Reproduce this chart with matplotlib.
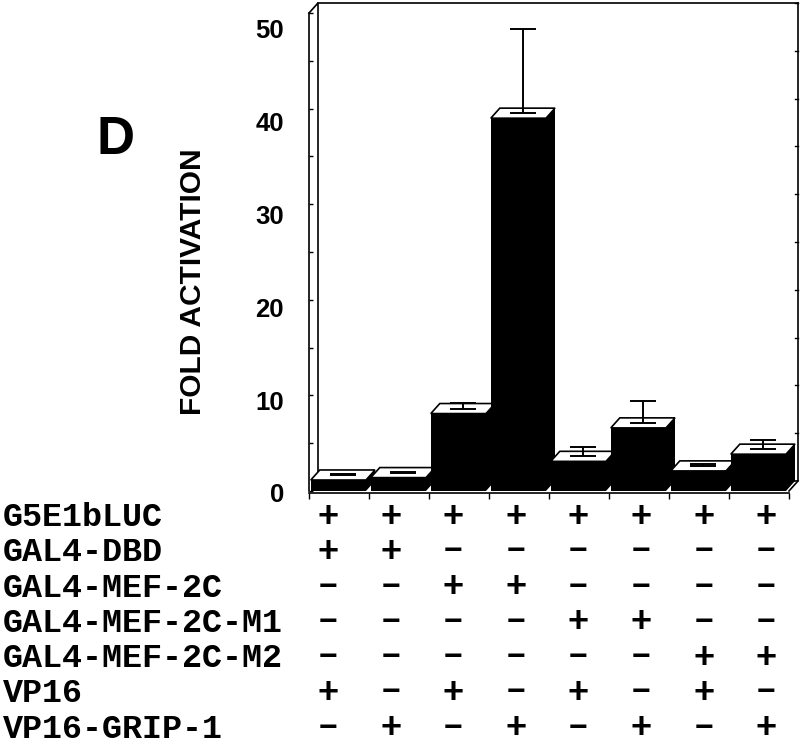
import numpy as np
import matplotlib.pyplot as plt
from matplotlib.transforms import blended_transform_factory

# constructs transfected (rows) and the +/- pattern for each of the 8 lanes
conditions = ['G5E1bLUC', 'GAL4-DBD', 'GAL4-MEF-2C', 'GAL4-MEF-2C-M1',
              'GAL4-MEF-2C-M2', 'VP16', 'VP16-GRIP-1']
signs = ['++++++++',
         '++------',
         '--++----',
         '----++--',
         '------++',
         '+-+-+-+-',
         '-+-+-+-+']

fold = [1.15, 1.4, 8.1, 39.0, 3.1, 6.6, 2.1, 3.85]
err = [0.1, 0.1, 0.55, 8.8, 0.95, 2.25, 0.2, 0.95]
yticks = [0, 10, 20, 30, 40, 50]

W, H = 800, 747
fig = plt.figure(figsize=(W / 100, H / 100), dpi=100)
ax = fig.add_axes([309 / W, 254 / H, 489 / W, 490 / H])

n = len(fold)
dx, dy = 0.15, 1.05   # depth of the fake 3d box
ymax = yticks[-1]
ax.set_xlim(0, n + dx)
ax.set_ylim(0, ymax + dy)
ax.spines['top'].set_visible(False)
ax.spines['right'].set_visible(False)
ax.spines['left'].set_bounds(0, ymax)
ax.spines['bottom'].set_bounds(0, n)
for s in ['left', 'bottom']:
    ax.spines[s].set_linewidth(1.2)

# labels sit a bit lower than the ticks in the original
lab_pos = [0.971 * v - 0.21 for v in yticks]
ax.set_yticks(lab_pos, labels=[str(v) for v in yticks], fontsize=18.5,
              fontweight='bold', family='Liberation Sans')
ax.set_yticks(np.arange(0, ymax + 1, 5), minor=True)
ax.tick_params(axis='y', which='major', length=0, pad=18)
ax.tick_params(axis='y', which='minor', direction='in', length=3, width=1)
ax.set_xticks(np.arange(n + 1))
ax.set_xticklabels([])
ax.tick_params(axis='x', which='major', direction='out', length=4, width=1)

# back walls of the box
kw = dict(color='black', lw=1.2, clip_on=False, zorder=1)
ax.plot([0, dx, dx, n + dx, n + dx], [ymax, ymax + dy, dy, dy, ymax + dy], **kw)
ax.plot([dx, n + dx], [ymax + dy, ymax + dy], **kw)
ax.plot([n, n + dx], [0, dy], **kw)
for v in np.arange(5, ymax + 1, 5):
    ax.plot([n + dx - 0.05, n + dx], [v + dy, v + dy], color='black', lw=1, clip_on=False, zorder=1)

for i, (v, e) in enumerate(zip(fold, err)):
    x0 = i + 0.03
    x1 = x0 + 0.92
    z = 3 + i
    ax.fill([x0, x1, x1, x0], [0, 0, v, v], color='black', lw=0, zorder=z)
    ax.fill([x1, x1 + dx, x1 + dx, x1], [0, dy, v + dy, v], color='black', lw=0, zorder=z)
    ax.fill([x0, x1, x1 + dx, x0 + dx], [v, v, v + dy, v + dy],
            facecolor='white', edgecolor='black', lw=1.2, zorder=z)
    ax.errorbar(x0 + 0.46 + dx / 2, v + dy / 2, yerr=[[0], [e]], color='black',
                capsize=9.5, lw=1.4, capthick=1.4, zorder=z + 0.5)

fig.text(193 / W, 1 - 282 / H, 'FOLD ACTIVATION', rotation=90, ha='center', va='center',
         fontsize=21.5, fontweight='bold', family='Liberation Sans')
fig.text(116 / W, 1 - 140 / H, 'D', ha='center', va='center',
         fontsize=38, fontweight='bold', family='Liberation Sans')

# +/- table under the bars
tr = blended_transform_factory(ax.transData, fig.transFigure)
col_x = 0.32 + 1.043 * np.arange(n)
for k, (name, row) in enumerate(zip(conditions, signs)):
    yb = 1 - (526 + 35.3 * k) / H
    fig.text(3 / W, yb, name, ha='left', va='baseline', fontsize=24,
             fontweight='bold', family='Liberation Mono')
    for j, s in enumerate(row):
        if s == '+':
            ax.text(col_x[j], yb + 9 / H, '+', transform=tr, ha='center', va='center',
                    fontsize=26, fontweight='bold', family='Liberation Sans')
        else:
            ax.text(col_x[j], yb + 9 / H, '\u2212', transform=tr, ha='center', va='center',
                    fontsize=23, fontweight='bold', family='Liberation Sans')

fig.savefig('out.png', dpi=100)
